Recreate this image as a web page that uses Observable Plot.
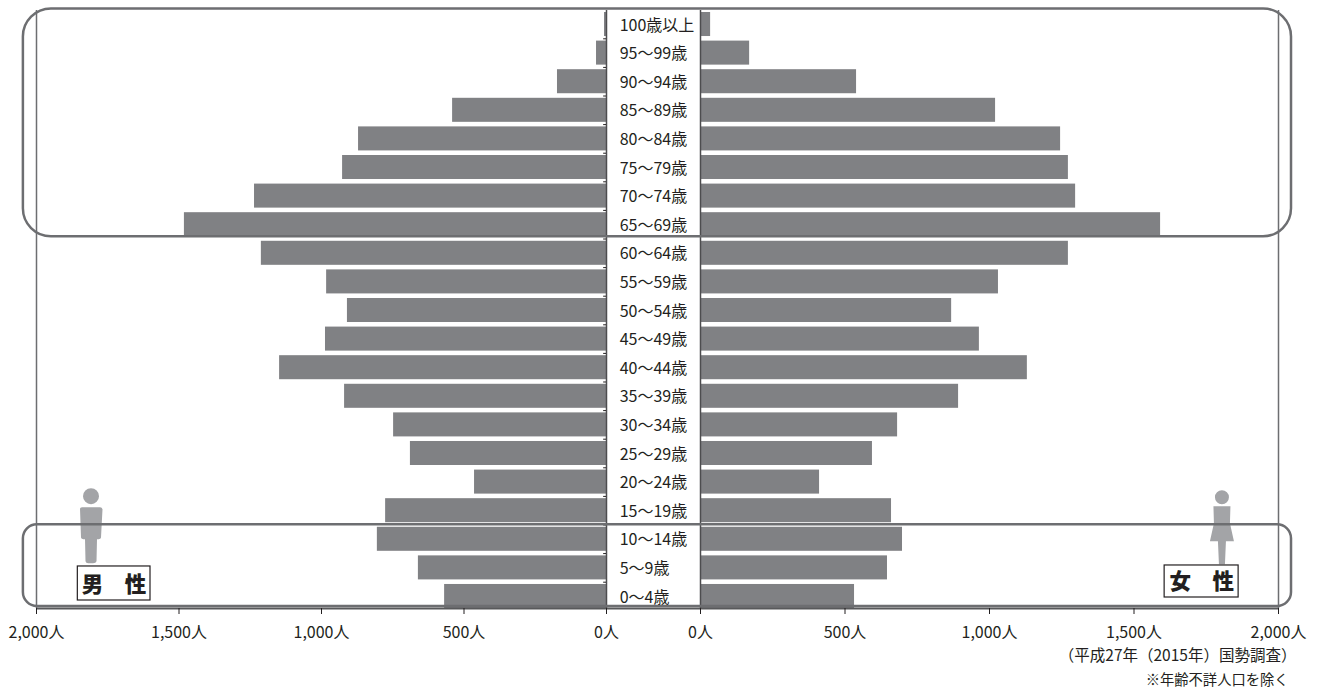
<!DOCTYPE html>
<html lang="ja"><head><meta charset="utf-8">
<style>html,body{margin:0;padding:0;background:#fff}svg{display:block}</style>
<script src="https://cdn.jsdelivr.net/npm/d3@7"></script>
<script src="https://cdn.jsdelivr.net/npm/@observablehq/plot@0.6"></script>
</head><body><div id="chart"></div>
<script>
const ages = ["100歳以上","95～99歳","90～94歳","85～89歳","80～84歳","75～79歳","70～74歳","65～69歳","60～64歳","55～59歳","50～54歳","45～49歳","40～44歳","35～39歳","30～34歳","25～29歳","20～24歳","15～19歳","10～14歳","5～9歳","0～4歳"];
const male = [7,35,172,540,870,926,1235,1481,1211,982,909,986,1147,919,747,688,463,775,804,660,568];
const female = [35,170,540,1021,1246,1273,1298,1592,1273,1031,869,965,1131,893,682,595,412,661,699,647,533];
const axisTicks = [0,500,1000,1500,2000];
const GAP = 100; // the label column, in scale units
const rows = ages.map((age,i)=>({age,male:male[i],female:female[i]}));
const sans = "'Liberation Sans Narrow','Noto Sans CJK JP',sans-serif";
const jp = "'Noto Sans CJK JP',sans-serif";
const BAR="#808184", LINE="#6d6e71", INK="#231f20", FIG="#a3a4a7";

function figure(d, xv, ya, dy){
  return (index, scales) => {
    const yb = scales.y(ya);
    const g = d3.create("svg:g").attr("transform",`translate(${scales.x(xv)},${yb+dy})`).attr("fill",FIG);
    g.append("path").attr("d",d);
    return g.node();
  };
}
const manPath = "M-8,0a8,8 0 1,1 16,0a8,8 0 1,1 -16,0Z M-11,12.5Q-11,11 -9,11L9,11Q11,11 11.5,13L10,41Q10,43 6,43L5.5,65Q5,67 2,67L-3,67Q-5,67 -5.5,65L-6,43Q-10,43 -10,41Z";
const womanPath = "M-7,0a7,7 0 1,1 14,0a7,7 0 1,1 -14,0Z M-8.5,9L8.5,9L8,26L12,44L4,44L3,67L-3,67L-4,44L-12,44L-8,26Z";

const plot = Plot.plot({
  width:1322, height:691, marginTop:12, marginBottom:83, marginLeft:36, marginRight:44,
  style:{background:"#fff"},
  x:{type:"linear", domain:[-2000,0,GAP,GAP+2000], range:[36,606,700,1278]},
  y:{type:"band", domain:ages, range:[12,608], paddingInner:0.16, paddingOuter:0, round:false, axis:null},
  marks:[
    figure(manPath,-1807,"15～19歳",-2),
    figure(womanPath,GAP+1806,"15～19歳",-1),
    Plot.barX(rows,{x1:d=>-d.male,x2:()=>0,y:"age",fill:BAR}),
    Plot.barX(rows,{x1:()=>GAP,x2:d=>GAP+d.female,y:"age",fill:BAR}),
    Plot.ruleX([-2000,GAP+2000],{stroke:LINE,strokeWidth:1.5,insetTop:-2}),
    Plot.ruleX([0,GAP],{stroke:"#4d4d4f",strokeWidth:1.5,insetTop:-2}),
    Plot.ruleY(ages.slice(0,-1),{x1:()=>-10,x2:()=>0,dy:14.3,stroke:INK,strokeWidth:1}),
    Plot.rect([{}],{x1:()=>-2046,x2:()=>GAP+2045,y1:()=>ages[0],y2:()=>"65～69歳",insetTop:-3.5,insetBottom:0,rx:28,stroke:LINE,strokeWidth:2.5,fill:"none"}),
    Plot.rect([{}],{x1:()=>-2046,x2:()=>GAP+2045,y1:()=>"10～14歳",y2:()=>"0～4歳",insetTop:-2.5,insetBottom:2,rx:14,stroke:LINE,strokeWidth:2.5,fill:"none"}),
    Plot.ruleY(["0～4歳"],{x1:()=>-2000,x2:()=>GAP+2000,dy:12,stroke:"#58595b",strokeWidth:2}),
    Plot.text(ages,{x:()=>14,y:d=>d,text:d=>d,textAnchor:"start",fontFamily:sans,fontSize:16,fill:INK,dy:1}),
    Plot.rect([{}],{x1:()=>-1855,x2:()=>-1600,y1:()=>"5～9歳",y2:()=>"5～9歳",insetTop:10.6,insetBottom:-20.6,fill:"#fff",stroke:INK,strokeWidth:1.2}),
    Plot.rect([{}],{x1:()=>GAP+1606,x2:()=>GAP+1862,y1:()=>"5～9歳",y2:()=>"5～9歳",insetTop:9.6,insetBottom:-17.6,fill:"#fff",stroke:INK,strokeWidth:1.2}),
    Plot.text(["男\u3000性"],{x:()=>-1728,y:()=>"5～9歳",text:d=>d,dy:17,fontFamily:jp,fontWeight:900,fontSize:21.5,fill:INK}),
    Plot.text(["女\u3000性"],{x:()=>GAP+1734,y:()=>"5～9歳",text:d=>d,dy:14,fontFamily:jp,fontWeight:900,fontSize:21.5,fill:INK}),
    Plot.axisX({anchor:"bottom",ticks:axisTicks.map(v=>-v),tickSize:6,tickPadding:12,label:null,tickFormat:v=>`${d3.format(",")(Math.abs(v))}人`,fontFamily:jp,fontSize:16,fill:INK,stroke:INK}),
    Plot.axisX({anchor:"bottom",ticks:axisTicks.map(v=>GAP+v),tickSize:6,tickPadding:12,label:null,tickFormat:v=>`${d3.format(",")(v-GAP)}人`,fontFamily:jp,fontSize:16,fill:INK,stroke:INK}),
    Plot.text(["（平成27年（2015年）国勢調査）"],{x:()=>GAP+2062,y:()=>"0～4歳",text:d=>d,textAnchor:"end",dy:60,fontFamily:jp,fontSize:15.5,fill:INK}),
    Plot.text(["※年齢不詳人口を除く"],{x:()=>GAP+2035,y:()=>"0～4歳",text:d=>d,textAnchor:"end",dy:84,fontFamily:jp,fontSize:14.3,fill:INK})
  ]
});
document.getElementById("chart").append(plot);
</script></body></html>
